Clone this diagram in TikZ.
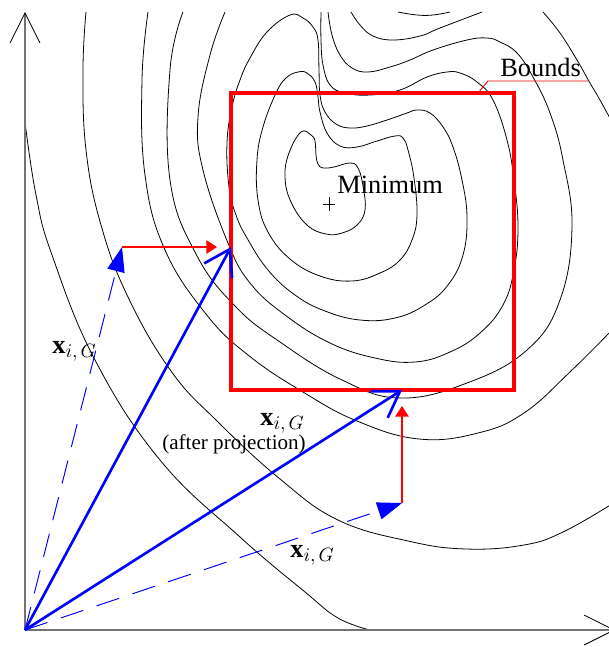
\documentclass[tikz,border=0pt]{standalone}
\usepackage{fontspec}
\setmainfont{Liberation Serif}
\usetikzlibrary{arrows.meta}
\tikzset{
  axisln/.style={black!55, line width=0.9pt, -{Straight Barb[length=17pt,width=17pt,line width=0.5pt,color=black]}},
  cnt/.style={black, line width=0.45pt},
  bnd/.style={red, line width=1.9pt},
  vsol/.style={blue, line width=1.5pt, -{Straight Barb[length=14pt,width=18pt]}},
  vdsh/.style={blue, line width=0.55pt, dash pattern=on 13.5pt off 8pt, -{Triangle[length=14pt,width=10pt]}},
  proj/.style={red, line width=1.1pt, -{Triangle[length=6pt,width=7.5pt]}},
  lbl/.style={font=\fontsize{15}{18}\selectfont, inner sep=0pt},
  smlbl/.style={font=\fontsize{12}{14}\selectfont, inner sep=0pt},
}
\begin{document}
\begin{tikzpicture}[x=0.02cm, y=-0.02cm]
\useasboundingbox (0,0) rectangle (609,647);
\clip (0,0) rectangle (609,647);

% contour lines
\draw[cnt] plot[smooth, tension=0.7] coordinates {(25,122) (36,195) (52,255) (95,360) (160,460) (240,537) (305,592) (338,618) (370,630)};
\draw[cnt] plot[smooth, tension=0.7] coordinates {(86,12) (83,70) (86,150) (101,225) (128,297) (171,371) (217,421) (280,479) (338,520) (408,541) (466,549) (524,545) (563,532) (612,504)};
\draw[cnt] plot[smooth, tension=0.7] coordinates {(148,12) (142,80) (145,175) (165,250) (206,314) (248,355) (303,392) (357,421) (419,439) (478,433) (524,413) (571,371) (612,330)};
\draw[cnt] plot[smooth, tension=0.7] coordinates {(183,12) (170,70) (170,180) (196,254) (235,306) (280,342) (342,380) (400,398) (467,383) (527,350) (560,300) (572,227) (563,160) (550,113) (533,77) (517,53) (500,42) (487,38) (467,40) (433,50) (410,60) (390,67) (368,72) (352,68) (340,55) (332,35) (328,12)};
\draw[cnt] plot[smooth, tension=0.7] coordinates {(225,12) (210,55) (198,117) (203,170) (228,243) (250,283) (285,315) (330,343) (375,358) (415,362) (450,352) (480,333) (503,305) (514,270) (518,227) (514,180) (507,140) (493,100) (477,82) (460,73) (447,72) (427,77) (400,90) (370,95) (345,93) (330,85) (323,65) (321,40) (321,12)};
\draw[cnt] plot[smooth cycle, tension=0.7] coordinates {(290,15) (303,18) (313,27) (318,40) (319,70) (320,95) (325,112) (336,124) (350,128) (367,126) (387,120) (407,113) (417,110) (430,113) (443,127) (453,147) (462,180) (467,217) (463,255) (448,285) (425,305) (395,318) (360,320) (325,311) (295,295) (268,270) (247,238) (236,215) (229,187) (227,143) (232,107) (240,80) (250,58) (267,32)};
\draw[cnt] plot[smooth cycle, tension=0.7] coordinates {(298,72) (307,73) (315,82) (318,97) (320,112) (327,133) (340,146) (357,147) (377,141) (395,136) (403,138) (408,150) (414,178) (417,215) (412,240) (400,260) (380,273) (352,281) (320,276) (290,259) (268,232) (258,200) (257,160) (263,127) (276,93) (286,78)};
\draw[cnt] plot[smooth cycle, tension=0.7] coordinates {(301,132) (311,135) (315,141) (316,155) (318,164) (323,168) (334,167) (350,163) (358,168) (363,186) (365,210) (357,225) (342,233) (326,234) (307,225) (291,202) (285,177) (289,153)};
\draw[cnt] plot[smooth, tension=0.7] coordinates {(351,12) (360,25) (373,36) (393,40) (420,36) (440,28) (482,12)};
\draw[cnt] plot[smooth, tension=0.7] coordinates {(398,12) (417,15) (433,15) (450,12)};
\draw[cnt] plot[smooth, tension=0.7] coordinates {(543,12) (560,33) (577,60) (590,83) (600,100) (612,122)};

% axes
\coordinate (O) at (25,630);
\coordinate (ytop) at (25,12);
\coordinate (xend) at (615,630);
\draw[axisln] (O) -- (ytop);
\draw[axisln] (O) -- (xend);

% bounds
\draw[bnd] (231,93) rectangle (514,390);
\coordinate (bndpt) at (478,93);
\coordinate (bndknee) at (488,81);
\coordinate (bndend) at (588,81);
\node[lbl, anchor=base west] (bnds) at (500,76) {Bounds};
\draw[red, line width=0.5pt] (bndpt) -- (bndknee) -- (bndend);

% minimum
\coordinate (minpt) at (329,204);
\draw[cnt] (minpt) ++(-6,0) -- ++(12,0) (minpt) ++(0,-7) -- ++(0,14);
\node[lbl, anchor=base west] (mintxt) at (337,193) {Minimum};

% vectors
\coordinate (p1) at (122,247);
\coordinate (q1) at (231,247);
\coordinate (p2) at (402,503);
\coordinate (q2) at (402,390);
\draw[vdsh] (O) -- (p1);
\draw[vdsh] (O) -- (p2);
\draw[vsol] (O) -- (q1);
\draw[vsol] (O) -- (q2);
\draw[proj] (p1) -- (217,247);
\draw[proj] (p2) -- (402,406);

\node[lbl, anchor=base west] (lblA) at (52,353) {\textbf{x}$_{i,\,G}$};
\node[lbl, anchor=base west] (lblB) at (260,425) {\textbf{x}$_{i,\,G}$};
\node[smlbl, anchor=base] (lblBp) at (234,449) {(after projection)};
\node[lbl, anchor=base west] (lblC) at (290,557) {\textbf{x}$_{i,\,G}$};
\end{tikzpicture}
\end{document}
